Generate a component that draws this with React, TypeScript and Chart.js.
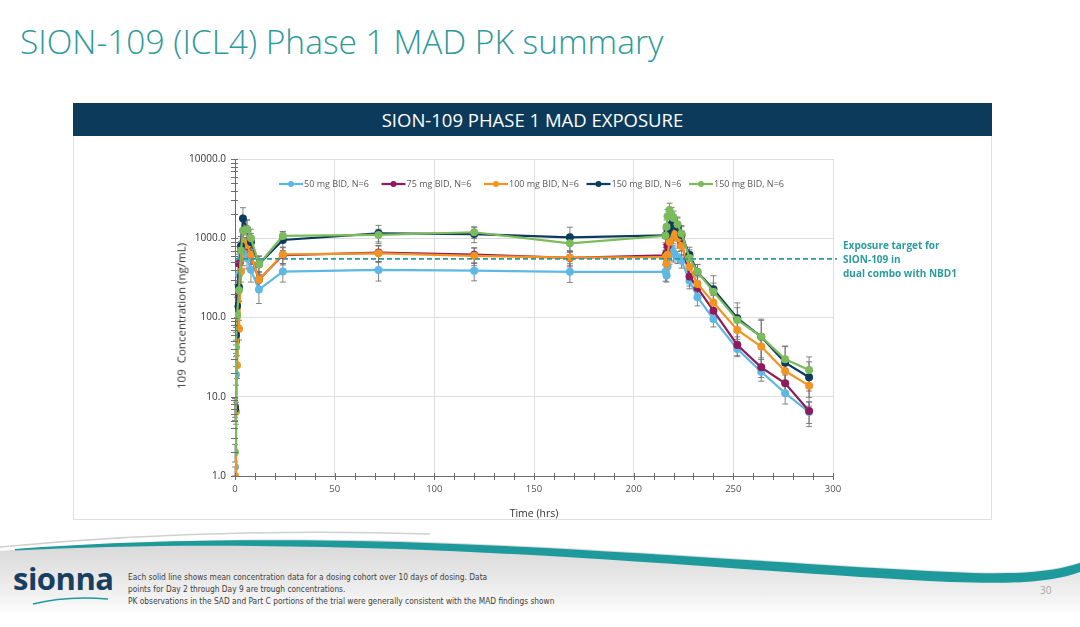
import React, { useEffect, useRef } from "react";
import { Chart, registerables } from "chart.js";

Chart.register(...registerables);

// ---------- data ----------
const TIMES = [0, 0.5, 1, 2, 3, 4, 6, 8, 12, 24, 72, 120, 168, 216, 216.5, 217, 218, 219, 220, 222, 224, 228, 232, 240, 252, 264, 276, 288];

const SERIES_LABELS = ["50 mg BID, N=6", "75 mg BID, N=6", "100 mg BID, N=6", "150 mg BID, N=6", "150 mg BID, N=6"];
const SERIES_COLORS = ["#5DB8E5", "#8E1B5B", "#F39321", "#0D3B5E", "#7CBB5B"];

const MEAN_50 = [1.3, 19, 110, 350, 560, 650, 560, 400, 225, 380, 398, 390, 377, 377, 340, 440, 620, 720, 650, 580, 520, 290, 180, 96, 40, 20.7, 11.1, 6.4];
const SD_50 = [0, 5, 30, 100, 150, 200, 150, 120, 75, 100, 110, 100, 100, 90, 60, 100, 150, 200, 150, 100, 100, 60, 40, 20, 8, 5, 3, 2.2];

const MEAN_75 = [7.5, 50, 200, 480, 700, 850, 800, 620, 300, 610, 660, 620, 565, 610, 650, 800, 1200, 1450, 1500, 1300, 900, 330, 236, 122, 45, 23.5, 14.8, 6.6];
const SD_75 = [2, 15, 60, 150, 200, 250, 200, 150, 80, 150, 150, 140, 130, 150, 150, 200, 300, 350, 350, 300, 200, 80, 50, 30, 12, 6, 4, 2];

const MEAN_100 = [1.0, 6.5, 25, 72, 380, 900, 820, 620, 300, 625, 646, 600, 569, 580, 480, 620, 900, 1100, 1150, 1000, 800, 434, 265, 155, 69.5, 43, 21.1, 13.8];
const SD_100 = [0.3, 2, 8, 20, 100, 250, 200, 150, 70, 150, 150, 150, 120, 130, 100, 150, 250, 300, 300, 250, 200, 100, 60, 35, 20, 12, 6, 4];

const MEAN_150A = [7, 60, 140, 240, 800, 1780, 1300, 900, 470, 950, 1154, 1130, 1028, 1085, 1100, 1200, 1350, 1500, 1550, 1400, 1100, 620, 375, 227, 98, 57, 26.9, 17.6];
const SD_150A = [2, 15, 40, 80, 250, 650, 400, 250, 120, 250, 300, 250, 350, 250, 250, 300, 400, 450, 450, 400, 300, 150, 90, 110, 55, 35, 16, 10];

const MEAN_150B = [2, 42, 105, 220, 700, 1250, 1300, 1000, 470, 1070, 1100, 1190, 864, 1075, 1400, 1900, 2270, 2000, 1800, 1500, 1150, 565, 378, 212, 93, 57.3, 29.7, 21.8];
const SD_150B = [0.5, 10, 30, 60, 200, 500, 400, 300, 130, 150, 200, 200, 200, 200, 300, 400, 500, 450, 400, 350, 300, 150, 90, 60, 40, 38, 14, 10];

const MEANS = [MEAN_50, MEAN_75, MEAN_100, MEAN_150A, MEAN_150B];
const SDS = [SD_50, SD_75, SD_100, SD_150A, SD_150B];

const TARGET_VALUE = 550;
const TARGET_X = [0, 302];

const X_TICKS = [0, 50, 100, 150, 200, 250, 300];
const X_MINOR_STEP = 10;
const Y_TICKS = [1, 10, 100, 1000, 10000];

const FONT = "'Open Sans', 'DejaVu Sans', sans-serif";

// ---------- plugins ----------
const errorBarPlugin = {
  id: "errorBars",
  beforeDatasetsDraw(chart: any) {
    const ctx = chart.ctx;
    const xs = chart.scales.x;
    const ys = chart.scales.y;
    ctx.save();
    ctx.strokeStyle = "rgba(110,110,110,0.85)";
    ctx.lineWidth = 1;
    MEANS.forEach((m, si) => {
      const sd = SDS[si];
      m.forEach((v, i) => {
        const s = sd[i];
        if (!s) return;
        const px = xs.getPixelForValue(TIMES[i]);
        const hi = ys.getPixelForValue(v + s);
        const lo = ys.getPixelForValue(Math.max(1, v - s));
        ctx.beginPath();
        ctx.moveTo(px, hi);
        ctx.lineTo(px, lo);
        ctx.moveTo(px - 3, hi);
        ctx.lineTo(px + 3, hi);
        ctx.moveTo(px - 3, lo);
        ctx.lineTo(px + 3, lo);
        ctx.stroke();
      });
    });
    ctx.restore();
  },
};

const axisTicksPlugin = {
  id: "axisTicks",
  afterDraw(chart: any) {
    const ctx = chart.ctx;
    const xs = chart.scales.x;
    const ys = chart.scales.y;
    const area = chart.chartArea;
    ctx.save();
    ctx.strokeStyle = "#6e6e6e";
    ctx.lineWidth = 1;
    ctx.beginPath();
    for (let t = 0; t <= 300; t += X_MINOR_STEP) {
      const px = Math.round(xs.getPixelForValue(t)) + 0.5;
      ctx.moveTo(px, area.bottom - 3);
      ctx.lineTo(px, area.bottom + 4);
    }
    for (let d = 0; d < Y_TICKS.length; d++) {
      const base = Y_TICKS[d];
      const maxK = d === Y_TICKS.length - 1 ? 1 : 9;
      for (let k = 1; k <= maxK; k++) {
        const py = Math.round(ys.getPixelForValue(base * k)) + 0.5;
        ctx.moveTo(area.left - 4, py);
        ctx.lineTo(area.left + 3, py);
      }
    }
    ctx.stroke();
    ctx.restore();
  },
};

const legendPlugin = {
  id: "insideLegend",
  afterDraw(chart: any) {
    const ctx = chart.ctx;
    const area = chart.chartArea;
    const y = area.top + 25;
    ctx.save();
    ctx.font = `9px ${FONT}`;
    ctx.textBaseline = "middle";
    SERIES_LABELS.forEach((lab, i) => {
      const x0 = area.left + 44 + i * 102.5;
      ctx.strokeStyle = SERIES_COLORS[i];
      ctx.lineWidth = 2.2;
      ctx.beginPath();
      ctx.moveTo(x0, y);
      ctx.lineTo(x0 + 24, y);
      ctx.stroke();
      ctx.fillStyle = SERIES_COLORS[i];
      ctx.beginPath();
      ctx.arc(x0 + 12, y, 3, 0, Math.PI * 2);
      ctx.fill();
      ctx.fillStyle = "#595959";
      ctx.fillText(lab, x0 + 25, y);
    });
    ctx.restore();
  },
};

function PKChart() {
  const ref = useRef<HTMLCanvasElement | null>(null);
  useEffect(() => {
    if (!ref.current) return;
    const datasets: any[] = MEANS.map((m, si) => ({
      label: SERIES_LABELS[si],
      data: m.map((v, i) => ({ x: TIMES[i], y: v })),
      borderColor: SERIES_COLORS[si],
      backgroundColor: SERIES_COLORS[si],
      pointBackgroundColor: SERIES_COLORS[si],
      pointBorderColor: SERIES_COLORS[si],
      pointRadius: 4,
      pointBorderWidth: 0,
      borderWidth: 2.2,
      tension: 0,
      order: MEANS.length - si,
    }));
    datasets.push({
      label: "Exposure target",
      data: TARGET_X.map((x) => ({ x, y: TARGET_VALUE })),
      borderColor: "#2A9CA0",
      borderWidth: 1.8,
      borderDash: [5, 3],
      pointRadius: 0,
      order: -1,
      clip: false,
    });
    const chart = new Chart(ref.current, {
      type: "line",
      data: { datasets },
      options: {
        responsive: false,
        animation: false,
        layout: { padding: { left: 0, right: 159, top: 23, bottom: 0 } },
        plugins: { legend: { display: false }, tooltip: { enabled: false } },
        scales: {
          x: {
            type: "linear",
            min: 0,
            max: 300,
            afterFit: (s: any) => {
              s.height = 44;
            },
            afterBuildTicks: (s: any) => {
              s.ticks = X_TICKS.map((v) => ({ value: v }));
            },
            ticks: {
              color: "#505050",
              font: { size: 9.5, family: FONT },
              padding: 8,
              maxRotation: 0,
            },
            grid: { color: "#dedede", drawTicks: false, lineWidth: 1 },
            border: { display: true, color: "#6e6e6e", width: 1 },
            title: {
              display: true,
              text: "Time (hrs)",
              color: "#333333",
              font: { size: 10.5, family: FONT },
              padding: { top: 1, bottom: 0 },
            },
          },
          y: {
            type: "logarithmic",
            min: 1,
            max: 10000,
            afterFit: (s: any) => {
              s.width = 162;
            },
            afterBuildTicks: (s: any) => {
              s.ticks = Y_TICKS.map((v) => ({ value: v }));
            },
            ticks: {
              color: "#333333",
              font: { size: 10, family: FONT },
              padding: 9,
              callback: (v: any) => Number(v).toFixed(1),
            },
            grid: { color: "#dedede", drawTicks: false, lineWidth: 1 },
            border: { display: true, color: "#6e6e6e", width: 1 },
            title: { display: false },
          },
        },
      },
      plugins: [errorBarPlugin, axisTicksPlugin, legendPlugin],
    });
    return () => chart.destroy();
  }, []);
  return <canvas ref={ref} width={919} height={384} style={{ width: 919, height: 384, display: "block" }} />;
}

export default function App() {
  return (
    <div
      style={{
        position: "absolute",
        left: 0,
        top: 0,
        width: 1080,
        height: 627,
        background: "#ffffff",
        overflow: "hidden",
        fontFamily: FONT,
      }}
    >
      <div
        style={{
          position: "absolute",
          left: 20,
          top: 18,
          fontSize: 33.5,
          fontWeight: 300,
          color: "#2E9A9A",
          whiteSpace: "nowrap",
          lineHeight: "46px",
        }}
      >
        SION-109 (ICL4) Phase 1 MAD PK summary
      </div>

      <div
        style={{
          position: "absolute",
          left: 73,
          top: 103,
          width: 919,
          height: 33,
          background: "#0C3A5B",
          color: "#ffffff",
          fontSize: 18.5,
          textAlign: "center",
          lineHeight: "33px",
        }}
      >
        SION-109 PHASE 1 MAD EXPOSURE
      </div>

      <div
        style={{
          position: "absolute",
          left: 73,
          top: 136,
          width: 917,
          height: 383,
          border: "1px solid #e0e0e0",
          borderTop: "none",
        }}
      />

      <div style={{ position: "absolute", left: 73, top: 136 }}>
        <PKChart />
      </div>

      <div
        style={{
          position: "absolute",
          left: 181,
          top: 316,
          transform: "translate(-50%, -50%) rotate(-90deg)",
          fontSize: 11.5,
          color: "#333333",
          whiteSpace: "pre",
        }}
      >
        {"109  Concentration (ng/mL)"}
      </div>

      <div
        style={{
          position: "absolute",
          left: 843,
          top: 238,
          fontSize: 10,
          fontWeight: 700,
          color: "#2A9CA0",
          lineHeight: "14px",
          whiteSpace: "nowrap",
        }}
      >
        <div>Exposure target for</div>
        <div>SION-109 in</div>
        <div>dual combo with NBD1</div>
      </div>

      <svg width={1080} height={100} style={{ position: "absolute", left: 0, top: 527 }}>
        <defs>
          <linearGradient id="footG" x1="0" y1="0" x2="0" y2="1">
            <stop offset="0" stopColor="#d6d6d6" />
            <stop offset="0.7" stopColor="#efefef" />
            <stop offset="1" stopColor="#ffffff" />
          </linearGradient>
        </defs>
        <path d="M0,24 C120,14 250,10 400,14 C600,20 800,37 950,44 C1010,47 1050,45 1080,35 L1080,88 L0,88 Z" fill="url(#footG)" />
        <path d="M0,20 C150,6 300,3 430,7" stroke="#d0d0d0" strokeWidth="1.5" fill="none" />
        <path
          d="M15,22 C120,14 250,11 400,15 C600,21 800,38 950,45 C1010,48 1050,46 1080,36 L1080,45 C1050,56 1010,57 950,55 C800,48 600,29 400,22 C250,17 120,18 15,23.5 Z"
          fill="#1F9A9C"
        />
        <path d="M33,77 C60,70 85,70 108,72" stroke="#1F9A9C" strokeWidth="1.5" fill="none" />
      </svg>

      <div
        style={{
          position: "absolute",
          left: 13,
          top: 558,
          fontSize: 31,
          fontWeight: 700,
          color: "#163F62",
          letterSpacing: -0.5,
          lineHeight: "40px",
        }}
      >
        sionna
      </div>

      <div
        style={{
          position: "absolute",
          left: 128,
          top: 571,
          fontSize: 8.3,
          color: "#404040",
          lineHeight: "12px",
          fontFamily: "'Liberation Sans Narrow', 'DejaVu Sans Condensed', sans-serif",
          whiteSpace: "nowrap",
        }}
      >
        <div>Each solid line shows mean concentration data for a dosing cohort over 10 days of dosing. Data</div>
        <div>points for Day 2 through Day 9 are trough concentrations.</div>
        <div>PK observations in the SAD and Part C portions of the trial were generally consistent with the MAD findings shown</div>
      </div>

      <div
        style={{
          position: "absolute",
          left: 1040,
          top: 583,
          fontSize: 10,
          color: "#a8a8a8",
        }}
      >
        30
      </div>
    </div>
  );
}
